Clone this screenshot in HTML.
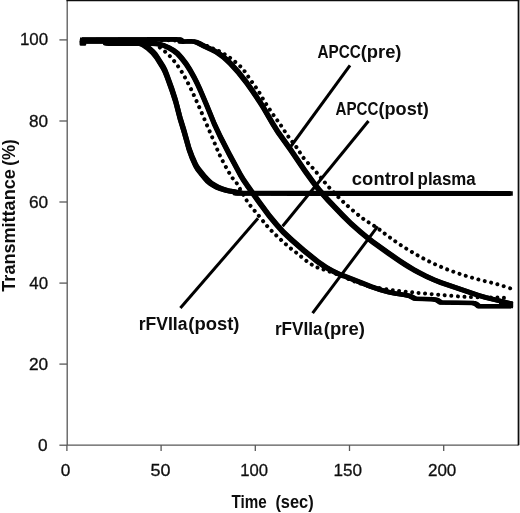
<!DOCTYPE html>
<html lang="en"><head><meta charset="utf-8"><title>Transmittance vs Time</title>
<style>html,body{margin:0;padding:0;background:#fff}body{width:520px;height:513px;overflow:hidden}svg{display:block}</style>
</head><body>
<svg width="520" height="513" viewBox="0 0 520 513">
<defs><filter id="soft" x="-5%" y="-5%" width="110%" height="110%"><feGaussianBlur stdDeviation="0.45"/></filter></defs>
<rect x="0" y="0" width="520" height="513" fill="#fff"/>
<g filter="url(#soft)">
<rect x="-10" y="-10" width="540" height="533" fill="#fff"/>
<g stroke="#585858" stroke-width="1.3" fill="none">
<path d="M67.2 0V445.2H518"/>
<path d="M59.4 445.2H67"/>
<path d="M59.4 364.1H67"/>
<path d="M59.4 283.1H67"/>
<path d="M59.4 202.0H67"/>
<path d="M59.4 121.0H67"/>
<path d="M59.4 39.9H67"/>
<path d="M66.9 445V451"/>
<path d="M161.1 445V451"/>
<path d="M255.3 445V451"/>
<path d="M349.5 445V451"/>
<path d="M443.7 445V451"/>
</g>
<path d="M519.6 0V445" stroke="#9a9a9a" stroke-width="0.8" fill="none"/>
<path d="M518.4 0V445.6" stroke="#0c0c0c" stroke-width="1.5" fill="none"/>
<rect x="66.5" y="-6" width="452.65" height="7.25" fill="#0c0c0c"/>
<g font-family="'Liberation Sans', sans-serif" fill="#111" stroke="#111" stroke-width="0.3">
<text x="19.93" y="45.4" font-size="16.3" textLength="28.20" lengthAdjust="spacingAndGlyphs">100</text>
<text x="29.03" y="126.5" font-size="16.3" textLength="19.10" lengthAdjust="spacingAndGlyphs">80</text>
<text x="28.94" y="207.5" font-size="16.3" textLength="19.19" lengthAdjust="spacingAndGlyphs">60</text>
<text x="29.38" y="288.6" font-size="16.3" textLength="18.73" lengthAdjust="spacingAndGlyphs">40</text>
<text x="28.94" y="369.6" font-size="16.3" textLength="19.19" lengthAdjust="spacingAndGlyphs">20</text>
<text x="37.91" y="450.7" font-size="16.3" textLength="9.60" lengthAdjust="spacingAndGlyphs">0</text>
<text x="60.81" y="476.3" font-size="16.3" textLength="9.60" lengthAdjust="spacingAndGlyphs">0</text>
<text x="150.58" y="476.3" font-size="16.3" textLength="19.98" lengthAdjust="spacingAndGlyphs">50</text>
<text x="240.15" y="476.3" font-size="16.3" textLength="27.77" lengthAdjust="spacingAndGlyphs">100</text>
<text x="333.62" y="476.3" font-size="16.3" textLength="28.53" lengthAdjust="spacingAndGlyphs">150</text>
<text x="427.95" y="476.3" font-size="16.3" textLength="28.39" lengthAdjust="spacingAndGlyphs">200</text>
</g>
<g font-family="'Liberation Sans', sans-serif" font-weight="bold" fill="#0a0a0a">
<text y="507.5" font-size="17.7"><tspan x="231.45" textLength="35.20" lengthAdjust="spacingAndGlyphs">Time</tspan> <tspan x="275.38" textLength="38.34" lengthAdjust="spacingAndGlyphs">(sec)</tspan></text>
<g transform="translate(14.9 0) rotate(-90)">
<text y="0.0" font-size="19.2"><tspan x="-291.68" textLength="122.42" lengthAdjust="spacingAndGlyphs">Transmittance</tspan> <tspan x="-165.65" textLength="26.40" lengthAdjust="spacingAndGlyphs">(%)</tspan></text>
</g>
<text y="57.7" font-size="17.6"><tspan x="317.42" textLength="43.42" lengthAdjust="spacingAndGlyphs">APCC</tspan><tspan x="360.68" textLength="40.79" lengthAdjust="spacingAndGlyphs">(pre)</tspan></text>
<text y="115.4" font-size="17.6"><tspan x="335.52" textLength="42.81" lengthAdjust="spacingAndGlyphs">APCC</tspan><tspan x="378.49" textLength="50.36" lengthAdjust="spacingAndGlyphs">(post)</tspan></text>
<text y="184.6" font-size="18.8"><tspan x="351.86" textLength="62.50" lengthAdjust="spacingAndGlyphs">control</tspan> <tspan x="417.60" textLength="58.13" lengthAdjust="spacingAndGlyphs">plasma</tspan></text>
<text y="330.2" font-size="17.6"><tspan x="138.76" textLength="48.73" lengthAdjust="spacingAndGlyphs">rFVIIa</tspan><tspan x="188.28" textLength="51.19" lengthAdjust="spacingAndGlyphs">(post)</tspan></text>
<text y="335.3" font-size="17.6"><tspan x="274.88" textLength="47.71" lengthAdjust="spacingAndGlyphs">rFVIIa</tspan><tspan x="323.78" textLength="41.10" lengthAdjust="spacingAndGlyphs">(pre)</tspan></text>
</g>
<g stroke="#000" stroke-width="3" fill="none" stroke-linecap="butt">
<path d="M350 65.3L290.4 147"/>
<path d="M368.5 121L282.6 226.3"/>
<path d="M377.7 226.4L312.6 313.2"/>
<path d="M180.4 308.1L258 218.3"/>
</g>
<g stroke="#000" fill="none" stroke-linejoin="round" stroke-linecap="round">
<path d="M83.0 40.0C90.8 40.0 113.7 39.9 130.0 40.0C146.3 40.1 169.7 40.2 180.7 40.6C191.7 41.0 190.9 41.0 196.0 42.2C201.1 43.4 206.7 45.8 211.0 47.6C215.3 49.4 218.5 50.8 222.0 52.8C225.5 54.8 228.7 56.7 232.0 59.3C235.3 61.9 239.1 64.9 242.1 68.2C245.1 71.5 247.3 75.5 249.9 79.1C252.5 82.7 255.2 86.1 257.7 90.0C260.2 93.9 262.5 98.3 265.0 102.3C267.5 106.3 270.2 110.2 272.8 114.0C275.4 117.8 278.0 121.2 280.6 125.0C283.2 128.8 285.8 133.1 288.4 136.7C291.0 140.3 293.6 143.2 296.2 146.8C298.8 150.4 301.1 154.9 304.0 158.5C306.9 162.1 310.6 165.6 313.3 168.6C316.0 171.6 317.5 173.6 320.0 176.6C322.5 179.6 324.5 182.3 328.4 186.6C332.3 190.9 338.1 197.1 343.6 202.2C349.1 207.3 355.9 213.2 361.4 217.4C366.9 221.6 371.8 224.2 376.6 227.6C381.4 230.9 385.2 234.1 390.0 237.5C394.8 240.9 400.1 244.8 405.2 248.0C410.3 251.2 415.3 254.1 420.4 256.9C425.5 259.6 430.5 262.2 435.6 264.5C440.7 266.8 445.7 268.9 450.8 270.8C455.9 272.7 460.9 274.3 466.0 275.9C471.1 277.5 476.1 278.8 481.2 280.2C486.3 281.6 491.4 282.6 496.4 284.0C501.4 285.4 508.7 287.8 511.1 288.6" stroke-width="4.0" stroke-dasharray="0.01 6.55"/>
<path d="M83.0 41.0C89.2 41.0 108.8 40.8 120.0 41.0C131.2 41.2 143.1 40.7 150.0 42.0C156.9 43.3 157.6 46.0 161.2 48.6C164.8 51.2 168.1 54.0 171.5 57.9C174.9 61.8 178.3 66.3 181.7 71.8C185.1 77.3 188.4 83.8 191.8 90.8C195.2 97.8 198.7 106.0 202.0 113.6C205.3 121.2 208.7 129.2 211.8 136.4C214.9 143.6 217.3 150.2 220.5 156.7C223.7 163.2 228.1 171.2 230.8 175.6C233.5 180.0 233.8 178.7 236.6 183.0C239.3 187.3 243.6 195.9 247.3 201.4C251.0 206.9 255.4 211.6 259.0 216.0C262.6 220.4 265.4 224.2 268.7 227.8C271.9 231.4 275.2 234.4 278.5 237.5C281.8 240.6 284.9 243.6 288.2 246.3C291.4 249.1 294.8 251.4 298.0 254.0C301.2 256.6 304.8 259.8 307.7 261.9C310.6 264.0 312.6 265.3 315.5 266.7C318.4 268.1 320.8 268.5 325.0 270.0C329.2 271.5 335.6 273.6 340.8 275.6C346.0 277.6 350.9 280.2 356.0 282.0C361.1 283.8 365.5 285.2 371.2 286.5C376.9 287.8 384.3 288.9 390.0 289.8C395.7 290.7 400.1 291.1 405.2 291.6C410.3 292.2 414.5 292.6 420.4 293.1C426.3 293.7 433.1 294.3 440.7 294.9C448.3 295.5 457.6 296.5 466.0 296.9C474.4 297.3 484.2 297.2 491.4 297.4C498.6 297.6 506.1 297.9 509.0 298.0" stroke-width="4.0" stroke-dasharray="0.01 6.55"/>
</g>
<g fill="#000" stroke="#000" stroke-linejoin="round" stroke-linecap="butt">
<path d="M82.0 39.5L166.8 39.4L175.8 39.4L180.2 39.6L181.4 39.8L181.8 40.1L181.6 40.4L180.0 41.3L180.5 41.5L182.4 41.6L191.5 41.3L193.8 41.6L196.1 42.2L198.4 43.1L204.1 46.1L212.5 49.9L216.8 52.2L220.3 54.6L224.3 57.7L227.2 60.3L230.5 63.6L234.6 67.9L238.6 72.6L246.8 83.0L252.2 90.6L260.2 102.3L263.5 107.8L272.8 124.0L277.7 131.7L290.8 150.0L305.2 171.2L312.8 181.7L318.7 189.5L322.7 194.3L327.0 199.1L341.9 214.7L350.3 222.9L359.3 230.9L367.1 237.4L372.5 241.7L388.2 252.9L398.9 260.4L405.2 264.5L413.3 269.4L419.6 273.0L426.0 276.2L433.9 279.8L440.8 282.5L478.0 295.2L485.0 297.2L510.6 303.6" fill="none" stroke-width="4.6"/>
<path d="M80.0 37.5L181.2 37.6L182.0 39.4L182.5 39.5L195.8 39.6L198.0 40.1L200.2 41.0L206.0 44.0L214.5 47.9L218.5 50.0L222.0 52.4L225.8 55.3L228.8 57.9L232.0 61.1L240.2 70.1L248.5 80.6L254.0 88.3L262.2 100.4L265.5 105.7L274.8 121.8L279.8 129.8L292.8 147.9L307.2 169.3L314.8 179.7L320.8 187.5L329.0 197.1L343.8 212.6L352.2 220.9L361.2 228.9L369.0 235.4L374.5 239.7L390.2 251.0L401.0 258.4L407.2 262.5L415.2 267.4L421.8 271.1L428.0 274.2L435.8 277.7L442.8 280.5L480.0 293.2L487.0 295.2L512.5 301.6L512.5 305.6L508.5 305.6L483.5 299.4L478.0 297.8L439.8 284.9L433.8 282.6L426.2 279.3L419.8 276.1L413.5 272.7L406.2 268.4L399.2 263.9L386.5 255.2L371.2 244.3L366.8 240.8L359.2 234.6L349.5 226.1L341.0 217.8L325.5 201.6L317.0 191.8L311.0 184.0L303.2 173.3L288.8 151.9L275.8 133.8L270.8 125.8L261.5 109.7L258.2 104.4L250.0 92.3L244.5 84.6L236.2 74.1L228.0 65.1L224.8 61.9L221.8 59.3L218.0 56.4L214.5 54.0L210.5 51.9L202.0 48.0L196.2 45.0L194.0 44.1L191.8 43.6L178.5 43.5L178.0 43.4L177.2 41.6L80.0 41.5Z" stroke="none"/>
<path d="M82.0 41.0L97.9 40.8L105.0 41.0L105.9 41.2L106.4 41.5L105.2 42.7L105.4 43.1L106.7 43.4L108.9 43.6L118.5 43.7L148.7 43.4L158.3 44.1L160.7 44.5L162.8 45.1L165.7 46.3L168.6 47.6L173.6 50.5L177.6 53.8L181.7 58.0L186.0 63.8L190.1 70.1L194.1 77.3L197.1 83.1L200.1 89.7L206.9 105.6L214.4 123.9L220.3 136.6L228.8 153.3L240.5 175.0L243.4 179.8L247.9 186.5L258.4 201.2L268.9 215.2L276.3 224.3L283.0 231.7L291.1 239.5L303.4 250.2L317.5 261.5L321.7 264.5L325.9 267.3L331.7 270.5L338.1 273.6L346.8 277.2L360.2 282.3L367.1 285.2L370.7 286.6L381.0 290.0L389.2 292.3L395.3 293.5L405.2 295.0L410.0 296.0L415.3 298.7L433.0 299.2L437.0 300.0L440.7 302.5L473.6 303.0L476.0 304.0L478.7 306.3L511.0 306.3" fill="none" stroke-width="4.6"/>
<path d="M80.0 39.0L107.0 39.0L107.2 41.0L108.8 41.4L111.0 41.6L155.0 41.7L160.0 42.0L164.5 43.0L170.2 45.4L175.2 48.3L179.5 51.6L183.5 55.9L188.0 61.8L192.0 68.0L196.2 75.5L199.2 81.5L202.2 88.0L209.0 103.9L216.2 121.7L222.2 134.6L230.8 151.2L242.5 173.0L245.2 177.6L250.0 184.6L260.5 199.3L271.0 213.4L278.5 222.5L285.2 229.9L293.2 237.6L305.8 248.6L319.8 259.7L328.2 265.5L334.0 268.7L340.2 271.7L348.8 275.1L362.2 280.3L372.8 284.6L383.0 288.0L391.2 290.3L397.2 291.5L407.2 293.0L412.0 294.0L417.2 296.7L435.0 297.2L439.0 298.0L442.8 300.5L475.5 301.0L478.0 302.0L480.8 304.3L513.0 304.3L513.0 308.3L476.8 308.3L474.0 306.0L471.5 305.0L438.8 304.5L435.0 302.0L431.0 301.2L413.2 300.7L408.0 298.0L403.2 297.0L393.2 295.5L387.2 294.3L379.0 292.0L368.8 288.6L358.2 284.3L344.8 279.1L336.2 275.7L330.0 272.7L324.2 269.5L315.8 263.7L301.8 252.6L289.2 241.6L281.2 233.9L274.5 226.5L267.0 217.4L256.5 203.3L246.0 188.6L241.2 181.6L238.5 177.0L226.8 155.2L218.2 138.6L212.2 125.7L205.0 107.9L198.2 92.0L195.2 85.5L192.2 79.5L188.0 72.0L184.0 65.8L179.5 59.9L175.5 55.6L171.5 52.5L166.5 49.5L160.8 47.1L156.2 46.1L151.0 45.7L107.0 45.6L104.8 45.4L103.2 45.0L103.0 43.0L80.0 43.0Z" stroke="none"/>
<path d="M82.0 41.2L124.2 41.2L130.4 41.4L134.5 41.8L140.0 43.2L141.9 43.9L144.0 45.0L146.2 46.4L148.3 48.0L153.0 52.4L155.0 54.7L156.7 57.0L163.3 67.6L165.0 71.0L167.0 76.1L172.1 90.2L175.5 100.7L176.9 105.6L180.1 118.2L184.0 131.2L189.1 149.1L192.1 157.3L195.4 164.7L196.7 167.1L198.2 169.2L204.3 177.0L207.9 180.9L210.7 183.3L214.0 185.4L217.4 187.2L221.1 188.7L225.0 190.0L229.0 190.9L235.8 192.1L241.5 192.7L235.3 193.0L237.5 193.2L298.2 193.4L510.6 193.5" fill="none" stroke-width="5.1"/>
<path d="M79.8 39.0L126.0 39.0L132.3 39.2L136.6 39.6L142.1 40.9L145.8 42.6L150.1 45.5L154.8 49.8L157.1 52.3L158.8 54.7L165.3 65.1L167.1 68.4L169.1 73.4L174.1 87.3L177.6 98.0L182.3 116.2L186.3 129.1L191.3 146.9L194.3 155.1L197.6 162.4L198.8 164.7L200.3 166.9L206.3 174.5L210.1 178.6L212.8 180.9L216.1 183.1L219.6 185.0L223.3 186.5L228.8 188.2L237.1 189.7L237.6 190.9L239.8 191.0L300.3 191.2L512.8 191.3L512.8 195.7L298.3 195.6L235.8 195.4L233.1 195.3L232.8 194.2L224.6 192.6L219.1 191.0L215.3 189.5L211.8 187.6L208.6 185.5L205.8 183.2L203.1 180.3L199.6 176.0L195.3 170.5L193.3 167.1L189.8 159.3L186.8 151.0L181.8 133.2L177.8 120.2L173.3 102.9L169.8 92.2L164.8 78.2L162.8 73.2L161.1 69.7L154.6 59.3L152.8 56.9L150.8 54.6L146.1 50.2L141.8 47.2L137.8 45.4L132.3 44.0L128.3 43.6L122.0 43.4L79.8 43.4Z" stroke="none"/>
<rect x="79.6" y="40" width="6.6" height="5.8" rx="1.2" stroke="none"/>
<rect x="499" y="301.3" width="14.2" height="6.6" rx="1" stroke="none"/>
</g>
</g>
</svg>
</body></html>
